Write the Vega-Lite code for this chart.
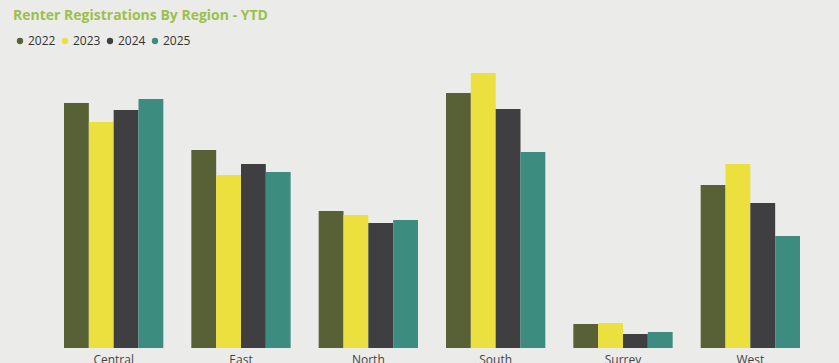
{
  "$schema": "https://vega.github.io/schema/vega-lite/v6.json",
  "autosize": "none",
  "width": 764,
  "height": 280,
  "padding": {"left": 50, "right": 25, "top": 68, "bottom": 15},
  "background": "#ebebea",
  "title": {
    "text": "Renter Registrations By Region - YTD",
    "anchor": "start",
    "frame": "group",
    "dx": -37,
    "dy": 15,
    "offset": 16,
    "baseline": "alphabetic",
    "font": "Open Sans",
    "fontSize": 14,
    "fontWeight": "bold",
    "color": "#9cbf4e"
  },
  "data": {
    "values": [
      {"region": "Central", "year": "2022", "value": 245},
      {"region": "Central", "year": "2023", "value": 226},
      {"region": "Central", "year": "2024", "value": 238},
      {"region": "Central", "year": "2025", "value": 249},
      {"region": "East", "year": "2022", "value": 198},
      {"region": "East", "year": "2023", "value": 173},
      {"region": "East", "year": "2024", "value": 184},
      {"region": "East", "year": "2025", "value": 176},
      {"region": "North", "year": "2022", "value": 137},
      {"region": "North", "year": "2023", "value": 133},
      {"region": "North", "year": "2024", "value": 125},
      {"region": "North", "year": "2025", "value": 128},
      {"region": "South", "year": "2022", "value": 255},
      {"region": "South", "year": "2023", "value": 275},
      {"region": "South", "year": "2024", "value": 239},
      {"region": "South", "year": "2025", "value": 196},
      {"region": "Surrey", "year": "2022", "value": 24},
      {"region": "Surrey", "year": "2023", "value": 25},
      {"region": "Surrey", "year": "2024", "value": 14},
      {"region": "Surrey", "year": "2025", "value": 16},
      {"region": "West", "year": "2022", "value": 163},
      {"region": "West", "year": "2023", "value": 184},
      {"region": "West", "year": "2024", "value": 145},
      {"region": "West", "year": "2025", "value": 112}
    ]
  },
  "mark": {"type": "bar"},
  "encoding": {
    "x": {
      "field": "region",
      "type": "nominal",
      "sort": null,
      "scale": {"paddingInner": 0.22, "paddingOuter": 0.11},
      "axis": {
        "title": null,
        "labelAngle": 0,
        "domain": false,
        "ticks": false,
        "labelPadding": 6,
        "labelFont": "Open Sans",
        "labelFontSize": 12,
        "labelColor": "#444444"
      }
    },
    "xOffset": {"field": "year", "type": "nominal"},
    "y": {
      "field": "value",
      "type": "quantitative",
      "scale": {"domain": [0, 280]},
      "axis": null
    },
    "color": {
      "field": "year",
      "type": "nominal",
      "scale": {
        "domain": ["2022", "2023", "2024", "2025"],
        "range": ["#586035", "#ece03e", "#3f3f41", "#3c8c80"]
      },
      "legend": {
        "title": null,
        "orient": "none",
        "direction": "horizontal",
        "legendX": -36,
        "legendY": -33,
        "padding": 0,
        "symbolType": "circle",
        "symbolSize": 40,
        "symbolStrokeWidth": 0,
        "labelFont": "Open Sans",
        "labelFontSize": 12,
        "labelColor": "#333333",
        "labelOffset": 2,
        "columnPadding": 3
      }
    }
  },
  "config": {
    "view": {"stroke": null},
    "axis": {"grid": false}
  }
}
